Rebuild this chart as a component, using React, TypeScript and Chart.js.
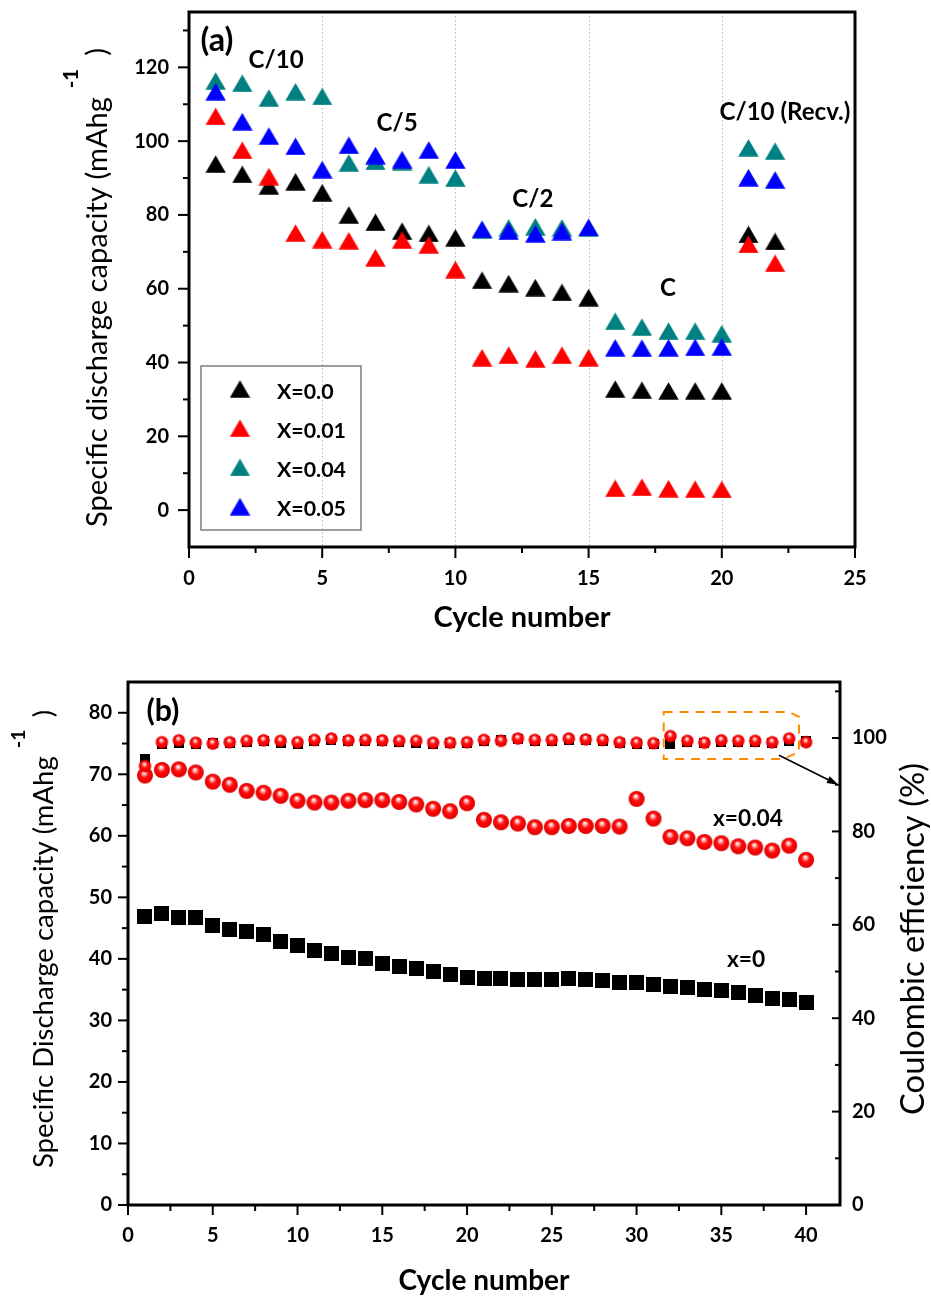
import React, { useEffect, useRef } from 'react';
import { Chart, registerables } from 'chart.js';

Chart.register(...registerables);

const FONT = 'Lato, "Open Sans", "DejaVu Sans", sans-serif';

// ---------------- Panel (a): rate capability ----------------
const cyclesA = [1, 2, 3, 4, 5, 6, 7, 8, 9, 10, 11, 12, 13, 14, 15, 16, 17, 18, 19, 20, 21, 22];
const capA_x000 = [93.8, 91.0, 87.9, 89.0, 86.0, 80.0, 78.0, 75.6, 75.0, 73.8, 62.3, 61.4, 60.3, 59.0, 57.6, 32.8, 32.5, 32.3, 32.3, 32.3, 74.7, 72.8];
const capA_x001 = [106.7, 97.5, 90.4, 75.1, 73.3, 73.0, 68.4, 73.2, 71.9, 65.2, 41.3, 42.0, 41.0, 42.0, 41.3, 5.9, 6.2, 5.8, 5.7, 5.6, 72.0, 66.9];
const capA_x004 = [116.3, 115.7, 111.7, 113.4, 112.1, 94.1, 94.5, 94.4, 90.9, 90.0, 75.8, 76.5, 76.8, 76.5, 76.4, 51.2, 49.6, 48.5, 48.5, 47.8, 98.2, 97.3];
const capA_x005 = [113.4, 105.3, 101.4, 98.6, 92.3, 98.9, 96.1, 95.0, 97.6, 94.9, 76.1, 75.6, 74.9, 75.5, 76.6, 44.0, 43.9, 44.0, 44.1, 44.2, 90.1, 89.5];
const namesA = ['X=0.0', 'X=0.01', 'X=0.04', 'X=0.05'];
const xTicksA = [0, 5, 10, 15, 20, 25];
const xMinorA = [2.5, 7.5, 12.5, 17.5, 22.5];
const yTicksA = [0, 20, 40, 60, 80, 100, 120];
const yMinorA = [10, 30, 50, 70, 90, 110, 130];
const gridA = [5, 10, 15, 20];
const rateLabelsA = ['C/10', 'C/5', 'C/2', 'C', 'C/10 (Recv.)'];

// ---------------- Panel (b): cycling ----------------
const cyclesB = [1, 2, 3, 4, 5, 6, 7, 8, 9, 10, 11, 12, 13, 14, 15, 16, 17, 18, 19, 20, 21, 22, 23, 24, 25, 26, 27, 28, 29, 30, 31, 32, 33, 34, 35, 36, 37, 38, 39, 40];
const capB_x0 = [46.9, 47.4, 46.7, 46.7, 45.4, 44.8, 44.4, 43.9, 42.9, 42.1, 41.4, 40.9, 40.2, 40.0, 39.2, 38.7, 38.4, 37.9, 37.4, 37.0, 36.8, 36.8, 36.7, 36.7, 36.7, 36.8, 36.7, 36.5, 36.2, 36.2, 35.9, 35.5, 35.3, 35.1, 34.8, 34.5, 34.1, 33.5, 33.4, 32.9];
const capB_x004 = [69.8, 70.7, 70.8, 70.3, 68.8, 68.3, 67.3, 67.0, 66.5, 65.7, 65.4, 65.4, 65.7, 65.8, 65.8, 65.5, 65.1, 64.4, 64.0, 65.3, 62.6, 62.2, 62.0, 61.4, 61.4, 61.6, 61.6, 61.6, 61.5, 66.0, 62.8, 59.8, 59.6, 59.0, 58.8, 58.3, 58.1, 57.6, 58.4, 56.1];
const ceB_x0 = [95.5, 98.8, 99.0, 98.8, 98.9, 99.0, 99.2, 99.3, 99.0, 98.7, 99.4, 99.6, 99.4, 99.4, 99.3, 99.2, 99.0, 98.8, 99.0, 99.0, 99.4, 99.5, 99.8, 99.4, 99.3, 99.6, 99.5, 99.4, 98.9, 98.8, 98.7, 98.7, 99.1, 98.9, 99.2, 99.1, 99.1, 99.0, 99.4, 99.4];
const ceB_x004 = [94.0, 99.1, 99.5, 99.0, 98.8, 99.1, 99.4, 99.5, 99.4, 99.1, 99.6, 99.9, 99.5, 99.6, 99.5, 99.4, 99.4, 99.0, 99.0, 99.1, 99.6, 99.4, 99.9, 99.6, 99.6, 99.9, 99.7, 99.6, 99.1, 99.0, 98.9, 100.4, 99.4, 99.0, 99.5, 99.4, 99.4, 99.1, 99.9, 99.1];
const xTicksB = [0, 5, 10, 15, 20, 25, 30, 35, 40];
const xMinorB = [2.5, 7.5, 12.5, 17.5, 22.5, 27.5, 32.5, 37.5];
const yTicksB = [0, 10, 20, 30, 40, 50, 60, 70, 80];
const yMinorB = [5, 15, 25, 35, 45, 55, 65, 75];
const y1TicksB = [0, 20, 40, 60, 80, 100];
const y1MinorB = [10, 30, 50, 70, 90, 110];
const seriesLabelsB = ['x=0', 'x=0.04'];

// ---------------- helpers ----------------
function makeTriangle(color: string) {
  const c = document.createElement('canvas');
  c.width = 21;
  c.height = 18;
  const g = c.getContext('2d')!;
  g.fillStyle = color;
  g.beginPath();
  g.moveTo(10.5, 0.3);
  g.lineTo(20.7, 17.7);
  g.lineTo(0.3, 17.7);
  g.closePath();
  g.fill();
  return c;
}

function makeBall(d: number) {
  const s = Math.ceil(d) + 2;
  const c = document.createElement('canvas');
  c.width = s;
  c.height = s;
  const g = c.getContext('2d')!;
  const cx = s / 2, cy = s / 2, r = d / 2;
  const grad = g.createRadialGradient(cx - r * 0.12, cy - r * 0.38, r * 0.04, cx, cy, r);
  grad.addColorStop(0, '#ffffff');
  grad.addColorStop(0.22, '#ff9a9a');
  grad.addColorStop(0.45, '#ff1010');
  grad.addColorStop(0.85, '#f00000');
  grad.addColorStop(1, '#c80000');
  g.fillStyle = grad;
  g.beginPath();
  g.arc(cx, cy, r, 0, Math.PI * 2);
  g.fill();
  return c;
}

function makeSquare(w: number, h: number) {
  const c = document.createElement('canvas');
  c.width = w;
  c.height = h;
  const g = c.getContext('2d')!;
  g.fillStyle = '#000';
  g.fillRect(0, 0, w, h);
  return c;
}

function fitSize(text: string, width: number, weight: string) {
  const c = document.createElement('canvas');
  const g = c.getContext('2d')!;
  g.font = `${weight} 100px ${FONT}`;
  return (100 * width) / g.measureText(text).width;
}

function line(ctx: CanvasRenderingContext2D, x1: number, y1: number, x2: number, y2: number) {
  ctx.beginPath();
  ctx.moveTo(x1, y1);
  ctx.lineTo(x2, y2);
  ctx.stroke();
}

function label(ctx: CanvasRenderingContext2D, text: string, x: number, y: number, size: number, weight = '700', align: CanvasTextAlign = 'center') {
  ctx.save();
  ctx.fillStyle = '#000';
  ctx.font = `${weight} ${size}px ${FONT}`;
  ctx.textAlign = align;
  ctx.textBaseline = 'middle';
  ctx.fillText(text, x, y);
  ctx.restore();
}

function vTitle(ctx: CanvasRenderingContext2D, xBase: number, yStart: number, main: string, sup: string, tail: string, size: number) {
  ctx.save();
  ctx.translate(xBase, yStart);
  ctx.rotate(-Math.PI / 2);
  ctx.fillStyle = '#000';
  ctx.textAlign = 'left';
  ctx.textBaseline = 'alphabetic';
  ctx.font = `400 ${size}px ${FONT}`;
  ctx.fillText(main, 0, 0);
  let w = ctx.measureText(main).width;
  if (sup) {
    const ss = size * 0.7;
    ctx.font = `700 ${ss}px ${FONT}`;
    const sx = w + size * 0.3;
    ctx.fillText(sup, sx, -size * 1.0);
    w = sx + ctx.measureText(sup).width + size * 0.45;
    ctx.font = `400 ${size}px ${FONT}`;
    ctx.fillText(tail, w, 0);
  }
  ctx.restore();
}

function ds(labelText: string, xs: number[], ys: number[], style: HTMLCanvasElement, order: number, axis = 'y') {
  return {
    label: labelText,
    data: xs.map((c, i) => ({ x: c, y: ys[i] })),
    pointStyle: style,
    pointRadius: 8,
    pointHoverRadius: 8,
    showLine: false,
    order,
    yAxisID: axis,
    clip: false as any,
  };
}

function tickFont(size: number) {
  return { family: FONT, size, weight: 'bold' as const };
}

function fixY(width: number) {
  return (s: any) => {
    s.width = width;
    s.paddingTop = 0;
    s.paddingBottom = 0;
  };
}
function fixX(height: number) {
  return (s: any) => {
    s.height = height;
    s.paddingLeft = 0;
    s.paddingRight = 0;
  };
}

// ---------------- component ----------------
export default function App() {
  const refA = useRef<HTMLCanvasElement>(null);
  const refB = useRef<HTMLCanvasElement>(null);

  useEffect(() => {
    document.body.style.margin = '0';
    const triBlack = makeTriangle('#000000');
    const triRed = makeTriangle('#ff0000');
    const triTeal = makeTriangle('#008080');
    const triBlue = makeTriangle('#0000ff');
    const triStyles = [triBlack, triRed, triTeal, triBlue];

    const titleSizeA = fitSize('Specific discharge capacity (mAhg', 430, '400');
    const cycleSizeA = fitSize('Cycle number', 177, '700');
    const annSize = fitSize('C/10 (Recv.)', 131, '700');
    const legSize = fitSize('X=0.01', 69, '700');
    const aSize = fitSize('(a)', 33, '700');

    const decorA = {
      id: 'decorA',
      beforeDatasetsDraw(chart: any) {
        const { ctx, chartArea: a, scales } = chart;
        const x = scales.x;
        ctx.save();
        ctx.strokeStyle = '#b9b9b9';
        ctx.lineWidth = 1;
        ctx.setLineDash([1.5, 2.5]);
        gridA.forEach((v) => {
          const px = Math.round(x.getPixelForValue(v)) + 0.5;
          line(ctx, px, a.top, px, a.bottom);
        });
        ctx.restore();
      },
      afterDatasetsDraw(chart: any) {
        const { ctx, chartArea: a, scales } = chart;
        const x = scales.x, y = scales.y;
        ctx.save();
        ctx.strokeStyle = '#000';
        ctx.lineWidth = 2;
        xTicksA.forEach((v) => { const p = x.getPixelForValue(v); line(ctx, p, a.bottom, p, a.bottom + 11); });
        xMinorA.forEach((v) => { const p = x.getPixelForValue(v); line(ctx, p, a.bottom, p, a.bottom + 6); });
        yTicksA.forEach((v) => { const p = y.getPixelForValue(v); line(ctx, a.left, p, a.left - 11, p); });
        yMinorA.forEach((v) => { const p = y.getPixelForValue(v); line(ctx, a.left, p, a.left - 6, p); });
        ctx.lineWidth = 3;
        ctx.strokeRect(a.left, a.top, a.right - a.left, a.bottom - a.top);
        ctx.restore();
      },
      afterDraw(chart: any) {
        const { ctx, scales } = chart;
        const x = scales.x, y = scales.y;
        const P = (vx: number, vy: number) => [x.getPixelForValue(vx), y.getPixelForValue(vy)];
        const [px, py] = P(1.05, 127.3);
        label(ctx, '(a)', px, py, aSize);
        const pos = [[3.27, 121.9], [7.81, 104.9], [12.91, 84.3], [17.98, 60.0], [22.37, 107.8]];
        rateLabelsA.forEach((t, i) => {
          const [lx, ly] = P(pos[i][0], pos[i][1]);
          label(ctx, t, lx, ly, annSize);
        });
        // legend
        ctx.save();
        ctx.strokeStyle = '#7f7f7f';
        ctx.lineWidth = 1.5;
        ctx.strokeRect(201, 366, 160, 164);
        ctx.restore();
        namesA.forEach((n, i) => {
          const cy = 389 + i * 39.2;
          const st = triStyles[i];
          ctx.drawImage(st, 240 - st.width / 2, cy - st.height / 2);
          label(ctx, n, 277, cy + 3, legSize, '700', 'left');
        });
        vTitle(ctx, 107, 527, 'Specific discharge capacity (mAhg', '-1', ')', titleSizeA);
      },
    };

    const chartA = new Chart(refA.current!, {
      type: 'scatter',
      data: {
        datasets: [
          ds(namesA[0], cyclesA, capA_x000, triBlack, 4),
          ds(namesA[1], cyclesA, capA_x001, triRed, 3),
          ds(namesA[2], cyclesA, capA_x004, triTeal, 2),
          ds(namesA[3], cyclesA, capA_x005, triBlue, 1),
        ] as any,
      },
      options: {
        animation: false,
        responsive: false,
        devicePixelRatio: 1,
        layout: { padding: { top: 12, right: 76, left: 0, bottom: 0 } },
        plugins: { legend: { display: false }, tooltip: { enabled: false } },
        scales: {
          x: {
            type: 'linear',
            position: 'bottom',
            min: 0,
            max: 25,
            afterFit: fixX(103),
            afterBuildTicks: (s: any) => { s.ticks = xTicksA.map((v) => ({ value: v })); },
            grid: { display: false, drawTicks: false },
            border: { display: false },
            ticks: { color: '#000', font: tickFont(20), padding: 20, maxRotation: 0 },
            title: { display: true, text: 'Cycle number', color: '#000', font: { family: FONT, size: cycleSizeA, weight: 'bold' }, padding: { top: 0, bottom: 15 } },
          },
          y: {
            type: 'linear',
            position: 'left',
            min: -10,
            max: 135,
            afterFit: fixY(189),
            afterBuildTicks: (s: any) => { s.ticks = yTicksA.map((v) => ({ value: v })); },
            grid: { display: false, drawTicks: false },
            border: { display: false },
            ticks: { color: '#000', font: tickFont(20), padding: 20 },
          },
        },
      } as any,
      plugins: [decorA],
    });

    // ---------- panel (b) ----------
    const bigBall = makeBall(16);
    const smallBall = makeBall(12.5);
    const bigSq = makeSquare(15, 15);
    const smallSq = makeSquare(10, 10);
    const titleSizeB = fitSize('Specific Discharge capacity (mAhg', 412, '400');
    const titleSizeR = fitSize('Coulombic efficiency (%)', 352, '400');
    const cycleSizeB = fitSize('Cycle number', 171, '700');
    const bSize = fitSize('(b)', 33, '700');
    const sLblSize = fitSize('x=0.04', 70, '700');

    const decorB = {
      id: 'decorB',
      afterDatasetsDraw(chart: any) {
        const { ctx, chartArea: a, scales } = chart;
        const x = scales.x, y = scales.y, y1 = scales.y1;
        ctx.save();
        ctx.strokeStyle = '#000';
        ctx.lineWidth = 2;
        xTicksB.forEach((v) => { const p = x.getPixelForValue(v); line(ctx, p, a.bottom, p, a.bottom + 10); });
        xMinorB.forEach((v) => { const p = x.getPixelForValue(v); line(ctx, p, a.bottom, p, a.bottom + 6); });
        yTicksB.forEach((v) => { const p = y.getPixelForValue(v); line(ctx, a.left, p, a.left - 10, p); });
        yMinorB.forEach((v) => { const p = y.getPixelForValue(v); line(ctx, a.left, p, a.left - 6, p); });
        y1TicksB.forEach((v) => { const p = y1.getPixelForValue(v); line(ctx, a.right, p, a.right - 8, p); });
        y1MinorB.forEach((v) => { const p = y1.getPixelForValue(v); line(ctx, a.right, p, a.right - 5, p); });
        ctx.lineWidth = 3;
        ctx.strokeRect(a.left, a.top, a.right - a.left, a.bottom - a.top);
        ctx.restore();
      },
      afterDraw(chart: any) {
        const { ctx, scales } = chart;
        const x = scales.x, y = scales.y, y1 = scales.y1;
        label(ctx, '(b)', x.getPixelForValue(2.06), y.getPixelForValue(80.2), bSize);
        label(ctx, seriesLabelsB[1], x.getPixelForValue(36.57), y.getPixelForValue(62.8), sLblSize);
        label(ctx, seriesLabelsB[0], x.getPixelForValue(36.46), y.getPixelForValue(39.9), sLblSize);
        // dashed highlight box
        const L = x.getPixelForValue(31.6), R = x.getPixelForValue(39.58);
        const T = y1.getPixelForValue(105.6), B = y1.getPixelForValue(95.5);
        ctx.save();
        ctx.strokeStyle = '#ff8c00';
        ctx.lineWidth = 2;
        ctx.setLineDash([9, 7]);
        ctx.beginPath();
        ctx.moveTo(L, T);
        ctx.lineTo(R - 10, T);
        ctx.lineTo(R, T + 5);
        ctx.lineTo(R, B - 7);
        ctx.lineTo(R - 16, B);
        ctx.lineTo(L, B);
        ctx.closePath();
        ctx.stroke();
        ctx.restore();
        // arrow
        const ax1 = x.getPixelForValue(38.4), ay1 = y1.getPixelForValue(96.3);
        const ax2 = x.getPixelForValue(41.9), ay2 = y1.getPixelForValue(90.0);
        ctx.save();
        ctx.strokeStyle = '#000';
        ctx.fillStyle = '#000';
        ctx.lineWidth = 1.6;
        const ang = Math.atan2(ay2 - ay1, ax2 - ax1);
        const hl = 12;
        line(ctx, ax1, ay1, ax2 - Math.cos(ang) * hl * 0.8, ay2 - Math.sin(ang) * hl * 0.8);
        ctx.beginPath();
        ctx.moveTo(ax2, ay2);
        ctx.lineTo(ax2 - hl * Math.cos(ang - 0.32), ay2 - hl * Math.sin(ang - 0.32));
        ctx.lineTo(ax2 - hl * Math.cos(ang + 0.32), ay2 - hl * Math.sin(ang + 0.32));
        ctx.closePath();
        ctx.fill();
        ctx.restore();
        vTitle(ctx, 53, 518, 'Specific Discharge capacity (mAhg', '-1', ')', titleSizeB);
        vTitle(ctx, 924, 465, 'Coulombic efficiency (%)', '', '', titleSizeR);
      },
    };

    const chartB = new Chart(refB.current!, {
      type: 'scatter',
      data: {
        datasets: [
          ds('x=0 capacity', cyclesB, capB_x0, bigSq, 4, 'y'),
          ds('x=0.04 capacity', cyclesB, capB_x004, bigBall, 3, 'y'),
          ds('x=0 coulombic efficiency', cyclesB, ceB_x0, smallSq, 2, 'y1'),
          ds('x=0.04 coulombic efficiency', cyclesB, ceB_x004, smallBall, 1, 'y1'),
        ] as any,
      },
      options: {
        animation: false,
        responsive: false,
        devicePixelRatio: 1,
        layout: { padding: { top: 32, right: 0, left: 0, bottom: 0 } },
        plugins: { legend: { display: false }, tooltip: { enabled: false } },
        scales: {
          x: {
            type: 'linear',
            position: 'bottom',
            min: 0,
            max: 42,
            afterFit: fixX(93),
            afterBuildTicks: (s: any) => { s.ticks = xTicksB.map((v) => ({ value: v })); },
            grid: { display: false, drawTicks: false },
            border: { display: false },
            ticks: { color: '#000', font: tickFont(20), padding: 19, maxRotation: 0 },
            title: { display: true, text: 'Cycle number', color: '#000', font: { family: FONT, size: cycleSizeB, weight: 'bold' }, padding: { top: 0, bottom: 0 } },
          },
          y: {
            type: 'linear',
            position: 'left',
            min: 0,
            max: 85,
            afterFit: fixY(128),
            afterBuildTicks: (s: any) => { s.ticks = yTicksB.map((v) => ({ value: v })); },
            grid: { display: false, drawTicks: false },
            border: { display: false },
            ticks: { color: '#000', font: tickFont(20), padding: 16 },
          },
          y1: {
            type: 'linear',
            position: 'right',
            min: 0,
            max: 112,
            afterFit: fixY(91),
            afterBuildTicks: (s: any) => { s.ticks = y1TicksB.map((v) => ({ value: v })); },
            grid: { display: false, drawTicks: false },
            border: { display: false },
            ticks: { color: '#000', font: tickFont(20), padding: 12 },
          },
        },
      } as any,
      plugins: [decorB],
    });

    return () => {
      chartA.destroy();
      chartB.destroy();
    };
  }, []);

  return (
    <div style={{ position: 'absolute', left: 0, top: 0, width: 931, height: 1298, background: '#ffffff' }}>
      <canvas ref={refA} width={931} height={650} style={{ position: 'absolute', left: 0, top: 0, width: 931, height: 650 }} />
      <canvas ref={refB} width={931} height={648} style={{ position: 'absolute', left: 0, top: 650, width: 931, height: 648 }} />
    </div>
  );
}
